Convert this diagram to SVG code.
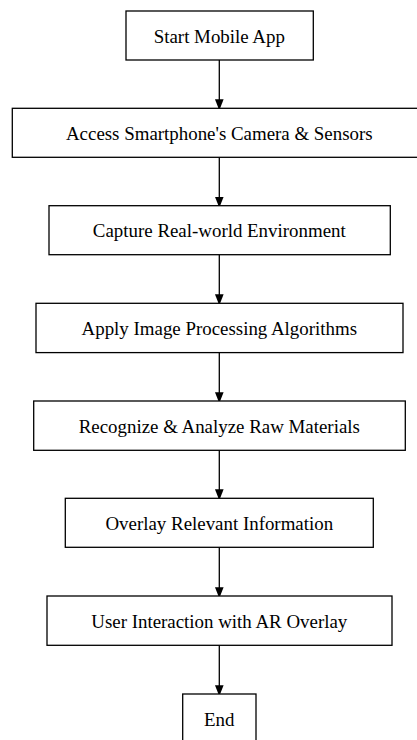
<svg xmlns="http://www.w3.org/2000/svg" width="417" height="740" viewBox="0 0 417 740">
<defs>
<style>
.box{fill:#fff;stroke:#000;stroke-width:1.3}
.lbl{font-family:"Liberation Serif","Times New Roman",serif;font-size:18.9px;fill:#000;text-anchor:middle}
.edge{stroke:#000;stroke-width:1.3;fill:none}
</style>
<marker id="ah" markerWidth="11" markerHeight="14" refX="11" refY="5.5" orient="auto" markerUnits="userSpaceOnUse" viewBox="0 0 14 11">
<path d="M0,0 L14,5.5 L0,11 Z" fill="#000"/>
</marker>
</defs>
<rect width="417" height="740" fill="#fff"/>
<g id="connectors">
<line class="edge" x1="219.3" y1="60" x2="219.3" y2="108" marker-end="url(#ah)"/>
<line class="edge" x1="219.3" y1="157.3" x2="219.3" y2="205.5" marker-end="url(#ah)"/>
<line class="edge" x1="219.3" y1="254.7" x2="219.3" y2="303" marker-end="url(#ah)"/>
<line class="edge" x1="219.3" y1="352.7" x2="219.3" y2="400.8" marker-end="url(#ah)"/>
<line class="edge" x1="219.3" y1="450.3" x2="219.3" y2="498" marker-end="url(#ah)"/>
<line class="edge" x1="219.3" y1="547.3" x2="219.3" y2="595.8" marker-end="url(#ah)"/>
<line class="edge" x1="219.3" y1="645.3" x2="219.3" y2="693.8" marker-end="url(#ah)"/>
</g>
<g id="start"><rect class="box" x="126" y="11" width="187.3" height="49"/><text class="lbl" x="219.3" y="42.5">Start Mobile App</text></g>
<g id="access"><rect class="box" x="12.3" y="108.3" width="414" height="49"/><text class="lbl" x="219.3" y="139.8">Access Smartphone's Camera &amp; Sensors</text></g>
<g id="capture"><rect class="box" x="49" y="205.7" width="341.3" height="49"/><text class="lbl" x="219.3" y="237.2">Capture Real-world Environment</text></g>
<g id="apply"><rect class="box" x="36" y="303.3" width="367" height="49.3"/><text class="lbl" x="219.3" y="335">Apply Image Processing Algorithms</text></g>
<g id="recognize"><rect class="box" x="33.7" y="401" width="371.6" height="49.3"/><text class="lbl" x="219.3" y="432.6">Recognize &amp; Analyze Raw Materials</text></g>
<g id="overlay"><rect class="box" x="65.3" y="498.3" width="308" height="49"/><text class="lbl" x="219.3" y="529.8">Overlay Relevant Information</text></g>
<g id="interaction"><rect class="box" x="47" y="596" width="345" height="49.3"/><text class="lbl" x="219.3" y="627.6">User Interaction with AR Overlay</text></g>
<g id="end"><rect class="box" x="182.7" y="694" width="73.3" height="49"/><text class="lbl" x="219.3" y="725.5">End</text></g>
</svg>
